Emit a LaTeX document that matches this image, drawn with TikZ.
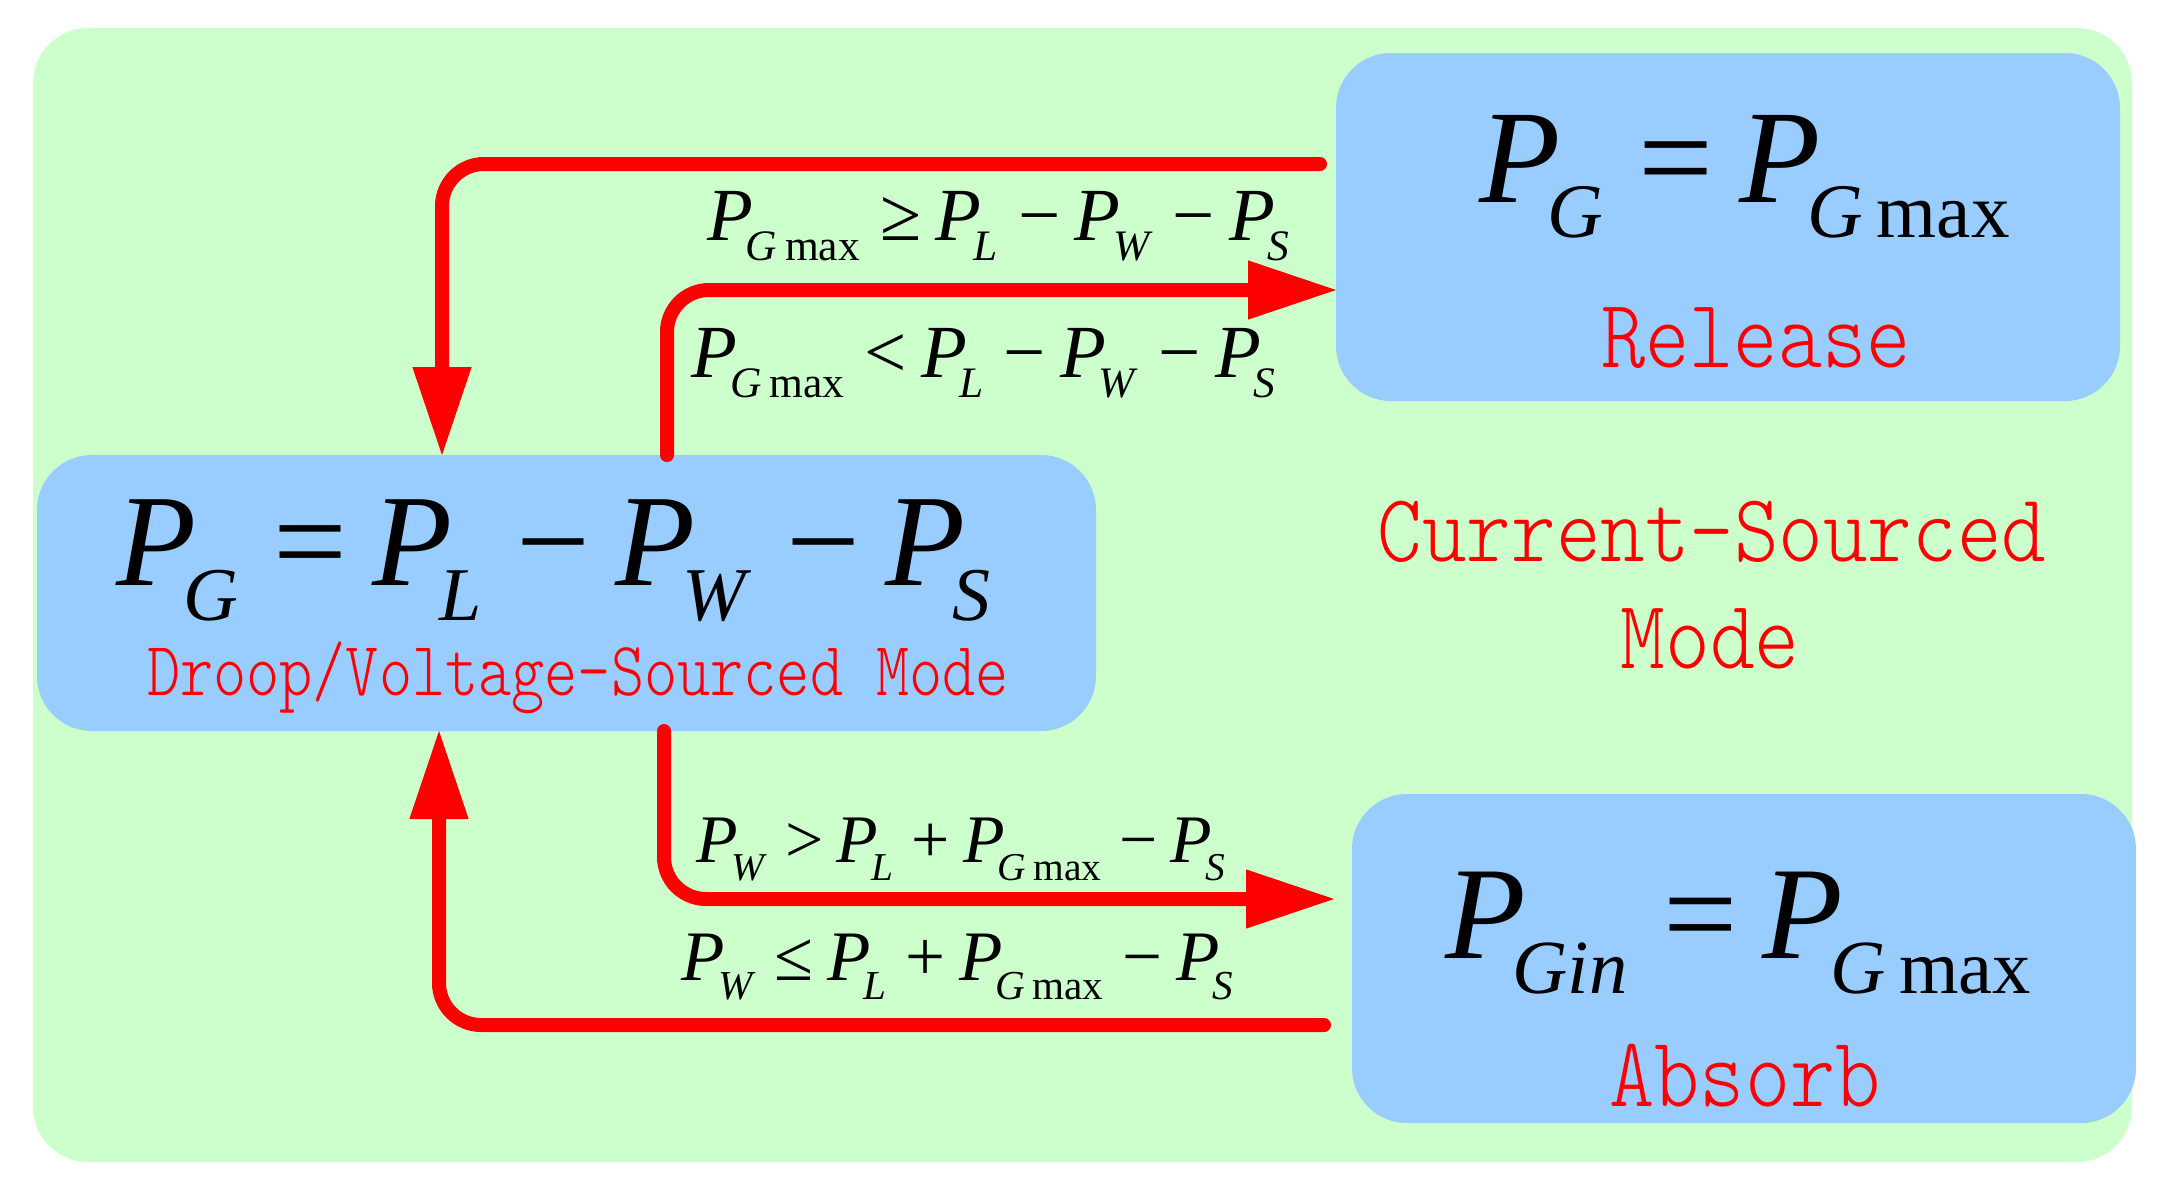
\documentclass[tikz,border=0pt]{standalone}
\usepackage{fontspec}
\setmainfont{Liberation Serif}
\IfFontExistsTF{lmmonolt10-regular.otf}
  {\newfontfamily\redmono{lmmonolt10-regular.otf}}
  {\newcommand\redmono{\ttfamily}}
\usetikzlibrary{arrows.meta}
\definecolor{bggreen}{HTML}{CCFFCC}
\definecolor{boxblue}{HTML}{99CCFF}
\newcommand\mP[1]{\textit{P}\kern-0.1em\raisebox{-0.27em}{\scalebox{0.58}{#1}}}
\newcommand\mR[1]{\kern0.27em#1\kern0.19em}
\newcommand\Gmx{\textit{G}\kern0.18em max}
\begin{document}
\begin{tikzpicture}[x=1pt,y=-1pt,
  modebox/.style={fill=boxblue, rounded corners=55pt, inner sep=0pt, outer sep=0pt},
  flow/.style={draw=red, line width=14pt, line cap=round, rounded corners=42pt,
    -{Triangle[length=88pt,width=59pt,line width=1pt]}},
  eqtxt/.style={anchor=base, inner sep=0pt, font=\fontsize{#1}{#1}\selectfont},
  redtxt/.style={anchor=base, inner sep=0pt, text=red, font=\redmono\fontsize{#1}{#1}\selectfont}]

\useasboundingbox (0,0) rectangle (2158,1189);
\node[fill=bggreen, rounded corners=55pt, minimum width=2099pt, minimum height=1134pt, inner sep=0pt] (bg) at (1082.5,595) {};
\node[modebox, minimum width=1059pt, minimum height=276pt] (droop) at (566.5,593) {};
\node[modebox, minimum width=784pt, minimum height=348pt] (rel) at (1728,227) {};
\node[modebox, minimum width=784pt, minimum height=329pt] (abs) at (1744,958.5) {};

% equations in the boxes
\node[eqtxt=131] (eqd) at (553.5,585) {\mP{\textit{G}}\mR{=}\mP{\textit{L}}\mR{−}\mP{\textit{W}}\mR{−}\mP{\textit{S}}};
\node[eqtxt=133] (eqr) at (1744.5,202) {\mP{\textit{G}}\mR{=}\mP{\Gmx}};
\node[eqtxt=132] (eqa) at (1738,958) {\mP{\textit{Gin}}\mR{=}\mP{\Gmx}};

% red mode texts
\node[redtxt=77] (td) at (578,695) {\scalebox{0.82}[1]{Droop/Voltage-Sourced Mode}};
\node[redtxt=98] (tr) at (1756,367) {\scalebox{0.86}[1]{Release}};
\node[redtxt=97] (tc1) at (1712,561) {\scalebox{0.875}[1]{Current-Sourced}};
\node[redtxt=98] (tc2) at (1710,668) {\scalebox{0.87}[1]{Mode}};
\node[redtxt=100] (ta) at (1745,1106) {\scalebox{0.86}[1]{Absorb}};

% condition labels
\node[eqtxt=75] (c1) at (998.5,240) {\mP{\Gmx}\mR{≥}\mP{\textit{L}}\mR{−}\mP{\textit{W}}\mR{−}\mP{\textit{S}}};
\node[eqtxt=75] (c2) at (983.5,377) {\mP{\Gmx}\mR{<}\mP{\textit{L}}\mR{−}\mP{\textit{W}}\mR{−}\mP{\textit{S}}};
\node[eqtxt=68] (c3) at (961,862) {\mP{\textit{W}}\mR{>}\mP{\textit{L}}\mR{+}\mP{\Gmx}\mR{−}\mP{\textit{S}}};
\node[eqtxt=71] (c4) at (957.5,980) {\mP{\textit{W}}\mR{≤}\mP{\textit{L}}\mR{+}\mP{\Gmx}\mR{−}\mP{\textit{S}}};

% connectors
\coordinate (s1) at (1320,164);
\coordinate (k1) at (442,0);
\coordinate (k2) at (667,0);
\coordinate (t2) at (0,290);
\coordinate (k3) at (664,0);
\coordinate (t3) at (0,899);
\coordinate (s4) at (1324,1025);
\coordinate (k4) at (439,0);
\draw[flow] (s1) -| (droop.north -| k1);
\draw[flow] (droop.north -| k2) |- (rel.west |- t2);
\draw[flow, shorten >=18pt] (droop.south -| k3) |- (abs.west |- t3);
\draw[flow] (s4) -| (droop.south -| k4);
\end{tikzpicture}
\end{document}
